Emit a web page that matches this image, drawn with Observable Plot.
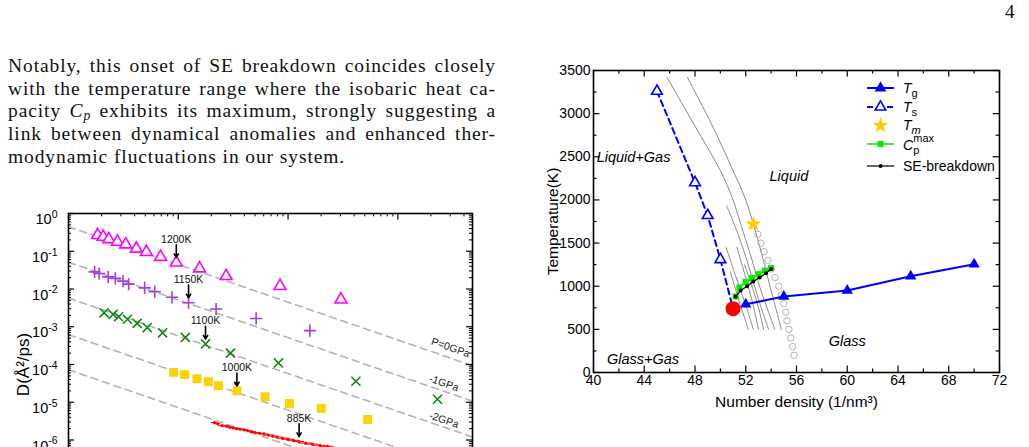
<!DOCTYPE html>
<html>
<head>
<meta charset="utf-8">
<script src="https://cdn.jsdelivr.net/npm/d3@7"></script>
<script src="https://cdn.jsdelivr.net/npm/@observablehq/plot@0.6"></script>
<style>
  html, body { margin: 0; padding: 0; background: #fff; }
  #page { position: relative; width: 1029px; height: 447px; overflow: hidden; }
  #pageno { position: absolute; left: 1005px; top: 1px; font: 19px "Liberation Serif", serif; color: #111; }
  #text { position: absolute; left: 8px; top: 55px; width: 488px; font-family: "Liberation Serif", serif;
          font-size: 19.5px; line-height: 22.7px; color: #111; letter-spacing: 0.9px; }
  #text .ln { text-align: justify; text-align-last: justify; }
  #text sub { font-size: 0.7em; vertical-align: -0.25em; line-height: 0; }
  #left { position: absolute; left: 0; top: 195px; }
  #right { position: absolute; left: 530px; top: 50px; }
</style>
</head>
<body>
<div id="page">
  <div id="pageno">4</div>
  <div id="text">
    <div class="ln">Notably, this onset of SE breakdown coincides closely</div>
    <div class="ln">with the temperature range where the isobaric heat ca-</div>
    <div class="ln">pacity <i>C<sub>p</sub></i> exhibits its maximum, strongly suggesting a</div>
    <div class="ln">link between dynamical anomalies and enhanced ther-</div>
    <div>modynamic fluctuations in our system.</div>
  </div>
  <div id="left"></div>
  <div id="right"></div>
</div>
<script>
// ---------- Diffusion coefficient vs relaxation time (log-log) ----------
const tauMax = 4786;

const triTau = [1.84, 2.07, 2.33, 2.79, 3.32, 4.15, 5.12, 6.90, 9.59, 15.6, 27.3, 84.5, 303];
const triD   = [0.267, 0.240, 0.209, 0.178, 0.151, 0.117, 0.0955, 0.0708, 0.0501, 0.0351, 0.0219, 0.0120, 0.00525];

const plusTau = [1.73, 1.90, 2.30, 2.67, 3.14, 3.53, 4.94, 6.10, 8.77, 12.4, 22.1, 51.2, 158];
const plusD   = [0.0285, 0.0257, 0.0209, 0.0191, 0.0162, 0.0135, 0.0107, 0.0085, 0.00603, 0.00432, 0.00295, 0.00166, 0.00079];

const timesTau = [2.11, 2.55, 2.86, 3.44, 4.22, 5.22, 7.19, 11.6, 17.7, 29.9, 81.7, 415, 2296];
const timesD   = [2.34e-3, 2.14e-3, 1.84e-3, 1.58e-3, 1.23e-3, 9.5e-4, 6.9e-4, 5.2e-4, 3.5e-4, 2.0e-4, 1.1e-4, 3.6e-5, 1.2e-5];

const sqTau = [9.06, 11.4, 14.8, 18.8, 23.2, 34.2, 61.7, 103, 201, 531];
const sqD   = [6.2e-5, 5.4e-5, 4.2e-5, 3.5e-5, 2.75e-5, 2.0e-5, 1.4e-5, 9.3e-6, 6.9e-6, 3.5e-6];

const redTau = [21.4, 22.9, 25.1, 27.5, 29.5, 31.6, 33.9, 36.3, 39.8, 42.7, 46.8, 50.1, 55.0, 60.3, 66.1, 72.4, 79.4, 89.1, 100, 112, 126, 145, 166, 195, 229];
const redD   = [2.88e-6, 2.69e-6, 2.40e-6, 2.34e-6, 2.19e-6, 2.09e-6, 2.00e-6, 1.95e-6, 1.86e-6, 1.78e-6, 1.66e-6, 1.58e-6, 1.51e-6, 1.45e-6, 1.35e-6, 1.29e-6, 1.20e-6, 1.12e-6, 1.05e-6, 9.8e-7, 9.1e-7, 8.3e-7, 7.8e-7, 7.2e-7, 6.8e-7];
const redErr = [1.5, 1.5, 1.8, 2, 2, 2.5, 2.5, 3, 3, 3.5, 4, 4.5, 5, 5.5, 6, 7, 8, 10, 12, 14, 16, 20, 24, 28, 34];

// Stokes–Einstein reference lines D = D0 / tau, labelled by pressure
const seLogD0  = [-0.35, -1.29, -2.24, -3.21, -4.14];
const seLabels = ["P=0GPa", "-1GPa", "-2GPa"];
const seLabelTau = [3020, 2630, 2630];
const seLabelD   = [2.8e-4, 3.2e-5, 3.4e-6];

// temperature markers: which point of each series is annotated
const markTau  = [9.59, 12.4, 17.7, 34.2, 126];
const markD    = [0.0501, 0.00432, 3.5e-4, 2.0e-5, 9.1e-7];
const markText = ["1200K", "1150K", "1100K", "1000K", "885K"];

const decades = [1e0, 1e-1, 1e-2, 1e-3, 1e-4, 1e-5, 1e-6, 1e-7, 1e-8];

const zip = (a, b) => a.map((v, i) => ({x: v, y: b[i]}));
const seLines = seLogD0.flatMap((b, i) => [1, tauMax].map(t => ({k: i, x: t, y: Math.pow(10, b) / t})));
const redPts = redTau.map((t, i) => ({x: t, y: redD[i], e: redErr[i]}));
const marks = markTau.map((t, i) => ({x: t, y: markD[i], text: markText[i]}));

const xMajL = [1, 10, 100, 1000];
const xMinL = xMajL.flatMap(d => [2, 3, 4, 5, 6, 7, 8, 9].map(k => k * d)).filter(v => v < tauMax);
const yMinL = decades.slice(0, -1).flatMap(d => [2, 3, 4, 5, 6, 7, 8, 9].map(k => k * d / 10));

const cleanLabel = (svg) => d3.select(svg).selectAll('g[aria-label$="-axis label"] text').each(function () {
  const t = d3.select(this);
  t.text(t.text().replace(/[↑↓→←]/g, "").trim());
});

const left = Plot.plot({
  width: 502, height: 350,
  marginLeft: 68, marginTop: 18, marginRight: 30, marginBottom: 30,
  style: {fontFamily: "'Liberation Sans', Arial, sans-serif", fontSize: "14.5px", background: "transparent", overflow: "visible", color: "black"},
  x: {type: "log", domain: [1, tauMax], axis: null},
  y: {type: "log", domain: [1e-8, 1]},
  marks: [
    Plot.line(seLines, {x: "x", y: "y", z: "k", stroke: "#b4b4b4", strokeWidth: 1.6, strokeDasharray: "7,5"}),
    Plot.text(seLabels.map((t, i) => ({x: seLabelTau[i], y: seLabelD[i], t})),
      {x: "x", y: "y", text: "t", rotate: 19, fontSize: 10.5, fill: "#222"}),
    Plot.ruleY(redPts, {y: "y", x1: d => d.x - d.e, x2: d => d.x + d.e, stroke: "#ff0000", strokeWidth: 1}),
    Plot.dot(redPts, {x: "x", y: "y", r: 1.6, fill: "#ff0000"}),
    Plot.dot(zip(sqTau, sqD), {x: "x", y: "y", symbol: "square", r: 5, fill: "#ffd200"}),
    Plot.dot(zip(timesTau, timesD), {x: "x", y: "y", symbol: "times", r: 4.2, stroke: "#118811", strokeWidth: 1.6}),
    Plot.dot(zip(plusTau, plusD), {x: "x", y: "y", symbol: "plus", r: 4, stroke: "#a23ee8", strokeWidth: 1.6}),
    Plot.dot(zip(triTau, triD), {x: "x", y: "y", symbol: "triangle", r: 4.4, stroke: "#ff00ff", strokeWidth: 1.6, fill: "white"}),
    Plot.arrow(marks, {x1: "x", x2: "x", y1: d => d.y * Math.pow(10, 0.47), y2: d => d.y * Math.pow(10, 0.13),
      stroke: "black", strokeWidth: 1.6, headLength: 6}),
    Plot.text(marks, {x: "x", y: d => d.y * Math.pow(10, 0.62), text: "text", fontSize: 10.5, fill: "#111"}),
    // inward ticks on all sides
    Plot.ruleX(xMajL, {x: d => d, y1: 1, y2: Math.pow(10, -0.17), stroke: "black", strokeWidth: 1.2}),
    Plot.ruleX(xMinL, {x: d => d, y1: 1, y2: Math.pow(10, -0.09), stroke: "black", strokeWidth: 1}),
    Plot.ruleY(decades, {y: d => d, x1: 1, x2: Math.pow(10, 0.055), stroke: "black", strokeWidth: 1.2}),
    Plot.ruleY(yMinL, {y: d => d, x1: 1, x2: Math.pow(10, 0.028), stroke: "black", strokeWidth: 1}),
    Plot.ruleY(decades, {y: d => d, x1: tauMax, x2: tauMax / Math.pow(10, 0.055), stroke: "black", strokeWidth: 1.2}),
    Plot.ruleY(yMinL, {y: d => d, x1: tauMax, x2: tauMax / Math.pow(10, 0.028), stroke: "black", strokeWidth: 1}),
    Plot.frame({stroke: "black", strokeWidth: 1.6}),
    Plot.axisY({ticks: decades, tickSize: 0, tickPadding: 11,
      tickFormat: d => "10^" + Math.round(Math.log10(d)),
      label: "D(Å²/ps)", labelAnchor: "center", labelOffset: 52})
  ]
});
document.getElementById("left").appendChild(left);
cleanLabel(left);

// power-of-ten tick labels with a raised exponent
d3.select(left).selectAll('g[aria-label="y-axis tick label"] text').each(function () {
  const t = d3.select(this);
  const [base, exp] = t.text().split("^");
  t.text(null).attr("dy", "0.42em");
  t.append("tspan").text(base);
  t.append("tspan").attr("dy", "-0.6em").attr("font-size", "0.72em").text(exp);
});
d3.select(left).selectAll('g[aria-label="y-axis label"] text').attr("font-size", 17);

// ---------- Phase diagram: temperature vs number density ----------
const tgDensity = [52, 55, 60, 65, 70];
const tgTemp    = [790, 880, 950, 1115, 1255];

const tsDensity = [45, 48, 49, 50];
const tsTemp    = [3260, 2200, 1820, 1310];

const critDensity = 51;
const critTemp    = 740;

const tmDensity = 52.6;
const tmTemp    = 1720;

const cpDensity = [51.2, 51.5, 52.0, 52.5, 53.0, 53.5, 54.0];
const cpTemp    = [880, 985, 1050, 1095, 1140, 1180, 1210];

const seDensity = [51.2, 51.6, 52.1, 52.6, 53.1, 53.6, 54.0];
const seTemp    = [880, 950, 1000, 1055, 1100, 1150, 1200];

const circDensity = [52.95, 53.2, 53.45, 53.75, 54.0, 54.3, 54.6, 54.8, 55.0, 55.15, 55.25, 55.4, 55.55, 55.7, 55.8];
const circTemp    = [1600, 1500, 1400, 1300, 1200, 1100, 1000, 900, 800, 700, 600, 500, 400, 300, 200];

// isobaric paths [density, T]
const isobars = [
  [[50.77, 1170], [51.5, 820], [52.2, 500]],
  [[50.45, 1450], [51.25, 1100], [52.0, 780], [52.6, 500]],
  [[51.3, 1450], [52.0, 1100], [52.55, 800], [53.0, 500]],
  [[51.9, 1250], [52.6, 950], [53.1, 700], [53.4, 500]],
  [[50.5, 1930], [51.4, 1600], [52.3, 1200], [53.0, 850], [53.8, 500]],
  [[45.8, 3420], [47.9, 2880], [50.0, 2340], [51.0, 2000], [51.6, 1720], [52.4, 1350], [53.2, 950], [53.8, 700], [54.3, 500]],
  [[47.4, 3420], [49.3, 2880], [51.0, 2340], [52.0, 2000], [52.6, 1720], [53.3, 1350], [54.0, 950], [54.45, 700], [54.8, 500]]
];

const regionText    = ["Liquid+Gas", "Liquid", "Glass", "Glass+Gas"];
const regionDensity = [40.25, 55.4, 60.0, 43.9];
const regionTemp    = [2490, 2270, 356, 147];
const regionAnchor  = ["start", "middle", "middle", "middle"];

const xMajR = d3.range(40, 73, 4);
const xMinR = d3.range(42, 72, 4);
const yMajR = d3.range(0, 3501, 500);
const yMinR = d3.range(250, 3500, 500);

const isoPts = isobars.flatMap((p, k) => p.map(([x, y]) => ({k, x, y})));
const pts = (xs, ys) => xs.map((x, i) => ({x, y: ys[i]}));
const regions = regionText.map((t, i) => ({t, x: regionDensity[i], y: regionTemp[i], a: regionAnchor[i]}));

const right = Plot.plot({
  width: 489, height: 362,
  marginLeft: 63, marginTop: 20, marginRight: 20, marginBottom: 40,
  style: {fontFamily: "'Liberation Sans', Arial, sans-serif", fontSize: "14px", background: "transparent", overflow: "visible", color: "black"},
  x: {domain: [40, 72]},
  y: {domain: [0, 3500]},
  marks: [
    Plot.line(isoPts, {x: "x", y: "y", z: "k", curve: "catmull-rom", stroke: "#8a8a8a", strokeWidth: 1}),
    Plot.dot(pts(circDensity, circTemp), {x: "x", y: "y", r: 3.2, stroke: "#b4b4b4", strokeWidth: 1, fill: "none"}),
    Plot.line([...pts(tsDensity, tsTemp), {x: critDensity, y: critTemp}], {x: "x", y: "y", stroke: "#0000ff", strokeWidth: 2, strokeDasharray: "6,4"}),
    Plot.dot(pts(tsDensity, tsTemp), {x: "x", y: "y", symbol: "triangle", r: 4, stroke: "#0000ff", strokeWidth: 1.6, fill: "white"}),
    Plot.line(pts(tgDensity, tgTemp), {x: "x", y: "y", stroke: "#0000ff", strokeWidth: 2}),
    Plot.dot(pts(tgDensity, tgTemp), {x: "x", y: "y", symbol: "triangle", r: 4.2, fill: "#0000ff"}),
    Plot.line(pts(cpDensity, cpTemp), {x: "x", y: "y", stroke: "#00ee00", strokeWidth: 1.5}),
    Plot.dot(pts(cpDensity, cpTemp), {x: "x", y: "y", symbol: "square", r: 3.4, fill: "#00ee00"}),
    Plot.line(pts(seDensity, seTemp), {x: "x", y: "y", stroke: "black", strokeWidth: 1.2}),
    Plot.dot(pts(seDensity, seTemp), {x: "x", y: "y", r: 2, fill: "black"}),
    Plot.dot([{x: tmDensity, y: tmTemp}], {x: "x", y: "y", symbol: "star", r: 5, fill: "#ffcc00"}),
    Plot.dot([{x: critDensity, y: critTemp}], {x: "x", y: "y", r: 7.5, fill: "#ff0000"}),
    Plot.text(regions.filter(d => d.a === "start"), {x: "x", y: "y", text: "t", textAnchor: "start", fontStyle: "italic", fontSize: 14.5}),
    Plot.text(regions.filter(d => d.a === "middle"), {x: "x", y: "y", text: "t", textAnchor: "middle", fontStyle: "italic", fontSize: 14.5}),
    // inward ticks on all four sides
    Plot.ruleX(xMajR, {x: d => d, y1: 0, y2: 75, stroke: "black", strokeWidth: 1.2}),
    Plot.ruleX(xMinR, {x: d => d, y1: 0, y2: 40, stroke: "black", strokeWidth: 1.2}),
    Plot.ruleX(xMajR, {x: d => d, y1: 3500, y2: 3425, stroke: "black", strokeWidth: 1.2}),
    Plot.ruleX(xMinR, {x: d => d, y1: 3500, y2: 3460, stroke: "black", strokeWidth: 1.2}),
    Plot.ruleY(yMajR, {y: d => d, x1: 40, x2: 40.5, stroke: "black", strokeWidth: 1.2}),
    Plot.ruleY(yMinR, {y: d => d, x1: 40, x2: 40.27, stroke: "black", strokeWidth: 1.2}),
    Plot.ruleY(yMajR, {y: d => d, x1: 72, x2: 71.5, stroke: "black", strokeWidth: 1.2}),
    Plot.ruleY(yMinR, {y: d => d, x1: 72, x2: 71.73, stroke: "black", strokeWidth: 1.2}),
    Plot.frame({stroke: "black", strokeWidth: 1.6}),
    Plot.axisX({ticks: xMajR, tickSize: 0, tickPadding: 3, tickFormat: d => String(d),
      label: "Number density (1/nm³)", labelAnchor: "center", labelOffset: 34}),
    Plot.axisY({ticks: yMajR, tickSize: 0, tickPadding: 3, tickFormat: d => String(d),
      label: "Temperature(K)", labelAnchor: "center", labelOffset: 47})
  ]
});
document.getElementById("right").appendChild(right);
cleanLabel(right);
d3.select(right).selectAll('g[aria-label="x-axis label"] text, g[aria-label="y-axis label"] text').attr("font-size", 15.5);

// legend
const legendRows = [
  {y: 38, stroke: "#0000ff", dash: null, sym: d3.symbolTriangle, size: 60, fill: "#0000ff", line: true, width: 2},
  {y: 57, stroke: "#0000ff", dash: "6,4", sym: d3.symbolTriangle, size: 48, fill: "white", line: true, width: 2},
  {y: 75.5, stroke: null, sym: d3.symbolStar, size: 80, fill: "#ffcc00", line: false},
  {y: 94, stroke: "#00ee00", sym: d3.symbolSquare, size: 36, fill: "#00ee00", line: true, width: 1.5},
  {y: 116, stroke: "black", sym: d3.symbolCircle, size: 12, fill: "black", line: true, width: 1.2}
];
const lg = d3.select(right).append("g").attr("transform", "translate(337,0)");
legendRows.forEach(r => {
  if (r.line) lg.append("line").attr("x1", 0).attr("x2", 27).attr("y1", r.y).attr("y2", r.y)
    .attr("stroke", r.stroke).attr("stroke-width", r.width).attr("stroke-dasharray", r.dash);
  lg.append("path").attr("d", d3.symbol(r.sym, r.size)()).attr("transform", `translate(13.5,${r.y})`)
    .attr("fill", r.fill).attr("stroke", r.fill === "white" ? "#0000ff" : "none").attr("stroke-width", 1.6);
});
const lt = (y) => lg.append("text").attr("x", 36).attr("y", y).attr("dy", "0.35em")
  .attr("font-size", 14).attr("text-anchor", "start");
let t;
t = lt(38); t.append("tspan").attr("font-style", "italic").text("T"); t.append("tspan").attr("font-size", 11).attr("dy", 4).text("g");
t = lt(57); t.append("tspan").attr("font-style", "italic").text("T"); t.append("tspan").attr("font-size", 11).attr("dy", 4).text("s");
t = lt(75.5); t.append("tspan").attr("font-style", "italic").text("T"); t.append("tspan").attr("font-size", 11).attr("font-style", "italic").attr("dy", 4).text("m");
t = lt(95); t.append("tspan").attr("font-style", "italic").text("C");
t.append("tspan").attr("font-size", 11).attr("dy", 4).text("p");
t.append("tspan").attr("font-size", 11).attr("dx", -6).attr("dy", -12).text("max");
t = lt(116); t.text("SE-breakdown");
</script>
</body>
</html>
